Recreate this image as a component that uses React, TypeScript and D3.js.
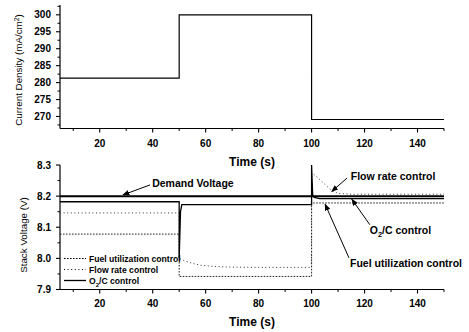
import * as d3 from 'd3'

// top panel: current density step input
const cdTime = [5, 50, 50, 100, 100, 150]
const cdValue = [281.3, 281.3, 300, 300, 269.1, 269.1]

// bottom panel: stack voltage responses
const demandTime = [5, 150]
const demandValue = [8.2, 8.2]

const o2cTime = [5, 50, 50, 50.5, 51, 100, 100, 100.4, 101, 103, 150]
const o2cValue = [8.182, 8.182, 8.0, 8.15, 8.173, 8.173, 8.3, 8.205, 8.196, 8.192, 8.192]

const fuelTime = [5, 50, 50, 100, 100, 150]
const fuelValue = [8.078, 8.078, 7.942, 7.942, 8.178, 8.178]

const flowTime = [5, 50, 50, 52, 55, 58, 62, 66, 70, 80, 100, 100, 102, 104, 106, 108, 110, 115, 150]
const flowValue = [
  8.146, 8.146, 8.0, 7.992, 7.984, 7.978, 7.975, 7.973, 7.972, 7.971, 7.971,
  8.276, 8.262, 8.246, 8.23, 8.216, 8.209, 8.206, 8.206,
]

const xTicks = [20, 40, 60, 80, 100, 120, 140]
const xMinor = [10, 30, 50, 70, 90, 110, 130, 150]
const topYTicks = [270, 275, 280, 285, 290, 295, 300]
const topYMinor = [267.5, 272.5, 277.5, 282.5, 287.5, 292.5, 297.5, 302.5]
const botYTicks = [7.9, 8.0, 8.1, 8.2, 8.3]
const botYMinor = [7.95, 8.05, 8.15, 8.25]

const legendItems = [
  { label: 'Fuel utilization control', dash: '1.6 1.4', width: 1 },
  { label: 'Flow rate control', dash: '1 2.6', width: 1 },
  { label: 'O2/C control', dash: '', width: 1.3 },
]

// annotations in data units: text anchor, arrow tail, arrow tip
const annotations = [
  { label: 'Demand Voltage', tx: 39.8, ty: 8.242, ax: 39, ay: 8.236, bx: 28.8, by: 8.204 },
  { label: 'Flow rate control', tx: 114.8, ty: 8.265, ax: 113.4, ay: 8.258, bx: 107.6, by: 8.215 },
  { label: 'O2/C control', tx: 122, ty: 8.089, ax: 122, ay: 8.108, bx: 115.2, by: 8.19 },
  { label: 'Fuel utilization control', tx: 114.5, ty: 7.983, ax: 114.1, ay: 8.002, bx: 105.1, by: 8.174 },
]

const FONT = 'Arial, "Liberation Sans", sans-serif'

function Label({ text, ...rest }: { text: string; [k: string]: any }) {
  if (text.startsWith('O2')) {
    return (
      <text {...rest}>
        O<tspan dy={3} fontSize="0.7em">2</tspan>
        <tspan dy={-3}>{text.slice(2)}</tspan>
      </text>
    )
  }
  return <text {...rest}>{text}</text>
}

export default function App() {
  const width = 469
  const height = 332
  const left = 60
  const right = 444

  const x = d3.scaleLinear().domain([5, 150]).range([left, right])
  const yTop = d3.scaleLinear().domain([266.45, 302.9]).range([128.5, 5])
  const yBot = d3.scaleLinear().domain([7.9, 8.3]).range([289.5, 165])

  const lineTop = d3
    .line<number>()
    .x(i => x(cdTime[i]))
    .y(i => yTop(cdValue[i]))
  const makeLine = (ts: number[], vs: number[]) =>
    d3
      .line<number>()
      .x(i => x(ts[i]))
      .y(i => yBot(vs[i]))(d3.range(ts.length)) ?? ''

  const topBottom = yTop.range()[0]
  const botBottom = yBot.range()[0]

  const xAxis = (y0: number, labelY: number, titleY: number) => (
    <g>
      <line x1={left} x2={right} y1={y0} y2={y0} stroke="#000" strokeWidth={1.2} />
      {xTicks.map(t => (
        <g key={`M${t}`}>
          <line x1={x(t)} x2={x(t)} y1={y0} y2={y0 + 4} stroke="#000" strokeWidth={1.1} />
          <text x={x(t)} y={labelY} textAnchor="middle" fontSize={10} fontWeight="bold">
            {t}
          </text>
        </g>
      ))}
      {xMinor.map(t => (
        <line key={`m${t}`} x1={x(t)} x2={x(t)} y1={y0} y2={y0 + 2.5} stroke="#000" strokeWidth={1} />
      ))}
      <text x={x(77.5)} y={titleY} textAnchor="middle" fontSize={12} fontWeight="bold">
        Time (s)
      </text>
    </g>
  )

  return (
    <svg
      width={width}
      height={height}
      style={{ position: 'fixed', left: 0, top: 0, background: '#fff' }}
      fontFamily={FONT}
    >
      <defs>
        <marker id="arr" viewBox="0 0 10 10" refX={9} refY={5} markerWidth={7} markerHeight={7} orient="auto">
          <path d="M0,1 L10,5 L0,9 z" fill="#000" />
        </marker>
      </defs>

      {/* top panel */}
      <line x1={left} x2={left} y1={yTop.range()[1]} y2={topBottom} stroke="#000" strokeWidth={1.2} />
      {topYTicks.map(v => (
        <g key={v}>
          <line x1={left - 4} x2={left} y1={yTop(v)} y2={yTop(v)} stroke="#000" strokeWidth={1.1} />
          <text x={51} y={yTop(v) + 3.5} textAnchor="end" fontSize={10} fontWeight="bold">
            {v}
          </text>
        </g>
      ))}
      {topYMinor.map(v => (
        <line key={v} x1={left - 2.5} x2={left} y1={yTop(v)} y2={yTop(v)} stroke="#000" strokeWidth={1} />
      ))}
      {xAxis(topBottom, 146.5, 165.5)}
      <text transform="translate(22, 70) rotate(-90)" textAnchor="middle" fontSize={9.8}>
        Current Density (mA/cm<tspan dy={-3} fontSize="0.7em">2</tspan>
        <tspan dy={3}>)</tspan>
      </text>
      <path d={lineTop(d3.range(cdTime.length)) ?? ''} fill="none" stroke="#000" strokeWidth={1.2} />

      {/* bottom panel */}
      <line x1={left} x2={left} y1={yBot.range()[1]} y2={botBottom} stroke="#000" strokeWidth={1.2} />
      {botYTicks.map(v => (
        <g key={v}>
          <line x1={left - 4} x2={left} y1={yBot(v)} y2={yBot(v)} stroke="#000" strokeWidth={1.1} />
          <text x={51} y={yBot(v) + 3.5} textAnchor="end" fontSize={10} fontWeight="bold">
            {v.toFixed(1)}
          </text>
        </g>
      ))}
      {botYMinor.map(v => (
        <line key={v} x1={left - 2.5} x2={left} y1={yBot(v)} y2={yBot(v)} stroke="#000" strokeWidth={1} />
      ))}
      {xAxis(botBottom, 306.5, 325.5)}
      <text transform="translate(27, 235) rotate(-90)" textAnchor="middle" fontSize={9.8}>
        Stack Voltage (V)
      </text>

      <path d={makeLine(flowTime, flowValue)} fill="none" stroke="#333" strokeWidth={1} strokeDasharray="1 2.6" />
      <path d={makeLine(fuelTime, fuelValue)} fill="none" stroke="#222" strokeWidth={1} strokeDasharray="1.6 1.4" />
      <path d={makeLine(demandTime, demandValue)} fill="none" stroke="#000" strokeWidth={2} />
      <path d={makeLine(o2cTime, o2cValue)} fill="none" stroke="#000" strokeWidth={1.3} />

      {/* legend */}
      {legendItems.map((item, i) => {
        const cy = 258.5 + i * 11
        return (
          <g key={item.label}>
            <line
              x1={64}
              x2={86}
              y1={cy}
              y2={cy}
              stroke="#000"
              strokeWidth={item.width}
              strokeDasharray={item.dash || undefined}
            />
            <Label text={item.label} x={89} y={cy + 3} fontSize={8.6} fontWeight="bold" />
          </g>
        )
      })}

      {/* annotations */}
      {annotations.map(a => (
        <g key={a.label}>
          <line
            x1={x(a.ax)}
            y1={yBot(a.ay)}
            x2={x(a.bx)}
            y2={yBot(a.by)}
            stroke="#000"
            strokeWidth={1}
            markerEnd="url(#arr)"
          />
          <Label text={a.label} x={x(a.tx)} y={yBot(a.ty) + 3.8} fontSize={10.5} fontWeight="bold" />
        </g>
      ))}
    </svg>
  )
}
